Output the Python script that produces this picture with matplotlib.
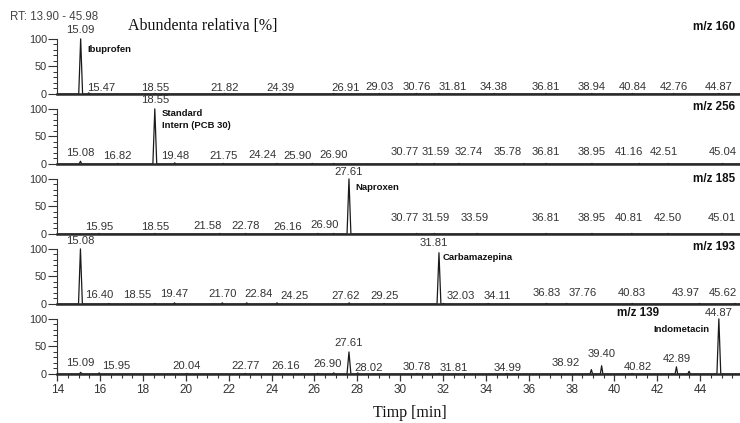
import matplotlib
matplotlib.use('Agg')
import matplotlib.pyplot as plt
from matplotlib.ticker import MultipleLocator, FixedLocator

# ---- data (retention time in min, relative abundance in %) ----
ions = ['m/z 160', 'm/z 256', 'm/z 185', 'm/z 193', 'm/z 139']
compounds = ['Ibuprofen', 'Standard\nIntern (PCB 30)', 'Naproxen', 'Carbamazepina', 'Indometacin']
main_rt = [15.09, 18.55, 27.61, 31.81, 44.87]

rt_160 = [15.09, 15.47, 18.55, 21.82, 24.39, 26.91, 29.03, 30.76, 31.81, 34.38, 36.81, 38.94, 40.84, 42.76, 44.87]
h_160 = [100, 2, 1, 1, 1, 1, 1, 1, 1, 1, 1, 1, 1, 1, 1]

rt_256 = [15.08, 16.82, 18.55, 19.48, 21.75, 24.24, 25.90, 26.90, 30.77, 31.59, 32.74, 35.78, 36.81, 38.95, 41.16, 42.51, 45.04]
h_256 = [5, 1, 100, 2, 1, 1, 1, 1, 1, 1, 1, 1, 1, 1, 1, 1, 1]

rt_185 = [15.95, 18.55, 21.58, 22.78, 26.16, 26.90, 27.61, 30.77, 31.59, 33.59, 36.81, 38.95, 40.81, 42.50, 45.01]
h_185 = [1, 1, 1, 1, 1, 1, 100, 1, 1, 1, 1, 1, 1, 1, 1]

rt_193 = [15.08, 16.40, 18.55, 19.47, 21.70, 22.84, 24.25, 27.62, 29.25, 31.81, 32.03, 34.11, 36.83, 37.76, 40.83, 43.97, 45.62]
h_193 = [100, 1, 1, 2, 2, 2, 2, 2, 1, 93, 1, 1, 1, 1, 1, 1, 1]

rt_139 = [15.09, 15.95, 20.04, 22.77, 26.16, 26.90, 27.61, 28.02, 30.78, 31.81, 34.99, 38.92, 39.40, 40.82, 42.89, 44.87]
h_139 = [3, 2, 1, 1, 1, 2, 40, 2, 1, 1, 1, 8, 15, 1, 13, 100]
# unlabelled bump and the off-scale start of the m/z 139 trace
rt_139_extra = [43.48]
h_139_extra = [5]
start_139 = 130

all_rt = [rt_160, rt_256, rt_185, rt_193, rt_139]
all_h = [h_160, h_256, h_185, h_193, h_139]
extra_rt = [[], [], [], [], rt_139_extra]
extra_h = [[], [], [], [], h_139_extra]
start_h = [0, 0, 0, 0, start_139]

# ---- label placement (how the software spread the peak labels out) ----
lab_160 = [116, 11, 11, 11, 11, 11, 13, 13, 13, 13, 13, 13, 13, 13, 13]
dx_160 = [0, .57, 0, 0, 0, .55, 0, 0, .65, 0, 0, 0, 0, 0, 0]
lab_256 = [20, 15, 116, 15, 15, 16, 15, 16, 22, 22, 22, 22, 22, 22, 22, 22, 22]
dx_256 = [0, 0, 0, 0, 0, -.68, -.69, 0, -.58, .05, .47, -.77, 0, 0, -.48, -.2, 0]
lab_185 = [13, 13, 15, 15, 13, 16, 113, 29, 29, 29, 29, 29, 29, 29, 29]
dx_185 = [0, 0, -.55, 0, -1.4, -.43, 0, -.58, .05, -.1, 0, 0, -.13, 0, 0]
lab_193 = [115, 16, 16, 18, 18, 18, 15, 15, 15, 111, 15, 15, 20, 20, 20, 20, 20]
dx_193 = [0, -.45, -.8, 0, 0, .53, .8, -.15, 0, -.23, .8, .4, 0, .77, 0, -.63, -.58]
lab_139 = [20, 15, 15, 15, 15, 18, 56, 11, 13, 11, 11, 20, 36, 13, 27, 111]
dx_139 = [0, .79, 0, 0, -1.5, -.28, 0, .52, 0, .7, 0, -1.2, 0, .28, 0, 0]
all_lab = [lab_160, lab_256, lab_185, lab_193, lab_139]
all_dx = [dx_160, dx_256, dx_185, dx_193, dx_139]

ion_pos = [(45.62, 122, 'right'), (45.62, 104, 'right'), (45.62, 100, 'right'),
           (45.62, 104, 'right'), (41.09, 111, 'center')]
comp_pos = [(5, 80, 'left'), (5, 80, 'left'), (4.5, 84, 'left'), (2.5, 84, 'left'), (-6.5, 80, 'right')]

SANS = 'Liberation Sans'
SERIF = 'Liberation Serif'
GREY = '#333333'
XMIN, XMAX = 13.97, 45.857
YTOP = 127


def trace(rts, hs, xrt, xh, h0):
    """peaks as narrow spikes on a flat baseline"""
    peaks = sorted(zip(list(rts) + list(xrt), list(hs) + list(xh)))
    x = [XMIN - 0.05]
    y = [h0]
    if h0 > 0:
        x.append(XMIN + 0.04)
        y.append(0)
    for rt, h in peaks:
        w = 0.09 if h >= 30 else 0.06
        x += [rt - w, rt, rt + w]
        y += [0, h, 0]
    x.append(XMAX + 1)
    y.append(0)
    return x, y


fig = plt.figure(figsize=(7.4, 4.23), dpi=100)

left = 56.66 / 740
width = 1 - left
panel_h = 70 / 423

axes = []
for i in range(5):
    bottom = 1 - (94 + 70 * i) / 423
    ax = fig.add_axes([left, bottom, width, panel_h])
    axes.append(ax)

    x, y = trace(all_rt[i], all_h[i], extra_rt[i], extra_h[i], start_h[i])
    ax.plot(x, y, color='#1a1a1a', lw=0.9)

    for rt, lab, dx in zip(all_rt[i], all_lab[i], all_dx[i]):
        ax.text(rt + dx, lab, '%.2f' % rt, ha='center', va='center',
                fontsize=8.1, family=SANS, color=GREY)

    xi, yi, ha = ion_pos[i]
    ax.text(xi, yi, ions[i], ha=ha, va='center', fontsize=8.4,
            family=SANS, fontweight='bold', color='#111111')

    off, yc, ha = comp_pos[i]
    ax.annotate(compounds[i], xy=(main_rt[i], yc), xytext=(off, 0),
                textcoords='offset points', ha=ha, va='center',
                fontsize=6.8, family=SANS, fontweight='bold', color='#111111',
                linespacing=1.45)

    ax.set_xlim(XMIN, XMAX)
    ax.set_ylim(0, YTOP)
    for s in ['top', 'right']:
        ax.spines[s].set_visible(False)
    ax.spines['left'].set_bounds(0, 100)
    ax.spines['left'].set_linewidth(0.8)
    ax.spines['left'].set_color(GREY)
    ax.spines['bottom'].set_linewidth(1.8)
    ax.spines['bottom'].set_color('#2a2a2a')

    ax.yaxis.set_major_locator(FixedLocator([0, 50, 100]))
    ax.yaxis.set_minor_locator(FixedLocator(range(0, 101, 10)))
    ax.tick_params(axis='y', which='major', direction='out', length=6.5, width=0.8,
                   color=GREY, labelsize=7.8, labelcolor=GREY, pad=0.5)
    ax.tick_params(axis='y', which='minor', direction='out', length=3, width=0.7, color=GREY)
    for t in ax.get_yticklabels():
        t.set_family(SANS)
    ax.patch.set_alpha(0)

    if i < 4:
        ax.tick_params(axis='x', which='both', bottom=False, labelbottom=False)
    else:
        ax.xaxis.set_major_locator(MultipleLocator(2))
        ax.xaxis.set_minor_locator(MultipleLocator(0.5))
        ax.tick_params(axis='x', which='major', direction='out', length=5, width=0.9,
                       color=GREY, labelsize=8.5, labelcolor=GREY, pad=2)
        ax.tick_params(axis='x', which='minor', direction='out', length=3, width=0.8, color=GREY)
        for t in ax.get_xticklabels():
            t.set_family(SANS)

fig.text(10 / 740, 1 - 17 / 423, 'RT: 13.90 - 45.98', ha='left', va='center',
         fontsize=8.3, family=SANS, color='#444444')
fig.text(128 / 740, 1 - 26.5 / 423, 'Abundenta relativa [%]', ha='left', va='center',
         fontsize=11.5, family=SERIF, color='#111111')
fig.text(409.5 / 740, 1 - 413 / 423, 'Timp [min]', ha='center', va='center',
         fontsize=11.5, family=SERIF, color='#111111')

fig.savefig('out.png', dpi=100)
